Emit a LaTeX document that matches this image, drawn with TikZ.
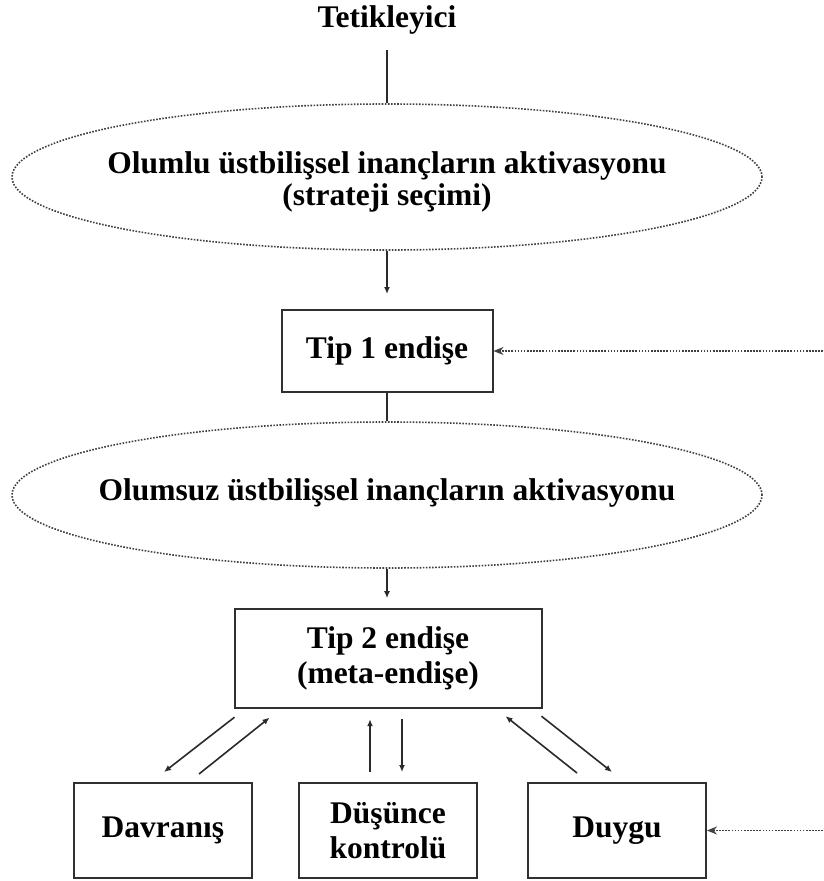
\documentclass[tikz,border=0pt]{standalone}
\usepackage{fontspec}
\setmainfont{Liberation Serif}
\usetikzlibrary{shapes.geometric,arrows.meta,calc}
\definecolor{frame}{HTML}{303030}
\definecolor{edge}{HTML}{2A2A2A}
\definecolor{dots}{HTML}{404040}
\begin{document}
\begin{tikzpicture}[x=1pt,y=-1pt,
  every node/.style={font=\fontsize{31.5}{34}\selectfont\bfseries, text=black},
  label/.style={align=center, inner sep=0pt},
  belief/.style={ellipse, draw=dots, line width=1.6pt, dash pattern=on 1.6pt off 1.5pt,
    minimum width=750pt, minimum height=146pt, inner sep=0pt},
  box/.style={rectangle, draw=frame, line width=2pt, align=center, inner sep=0pt},
  link/.style={draw=edge, line width=1.6pt},
  flow/.style={link, -{Latex[length=7pt,width=6pt]}},
  feed/.style={draw=dots, line width=1.5pt, dash pattern=on 1.6pt off 1.5pt,
    -{Stealth[length=10pt,width=8pt]}}]
\useasboundingbox (0,0) rectangle (823,881);

% trigger and the two belief activations
\node[anchor=base] (trig) at (387,27) {Tetikleyici};
\node[belief] (pos) at (387,177) {};
\node[label, font=\fontsize{31.5}{32}\selectfont\bfseries] (posText) at (387,182) {Olumlu üstbilişsel inançların aktivasyonu\\(strateji seçimi)};
\node[belief] (neg) at (387,495) {};
\node[label] (negText) at (387,492.5) {Olumsuz üstbilişsel inançların aktivasyonu};

% worry boxes
\node[box, minimum width=211pt, minimum height=82pt] (w1) at (387,351) {Tip 1 endişe};
\node[box, minimum width=307pt, minimum height=99pt, font=\fontsize{31.5}{35}\selectfont\bfseries] (w2) at (388,658.7) {Tip 2 endişe\\(meta-endişe)};

% responses
\node[box, minimum width=178pt, minimum height=95pt] (act) at (163,830.5) {Davranış};
\node[box, minimum width=178pt, minimum height=95pt, font=\fontsize{31.5}{35}\selectfont\bfseries] (ctl) at (388,830.5) {Düşünce\\kontrolü};
\node[box, minimum width=178pt, minimum height=95pt] (emo) at (617,830.5) {Duygu};

% free ends of the feedback arrows
\coordinate (src1) at (823,351);
\coordinate (src2) at (823,830.5);

% main chain
\draw[link, shorten <=13pt] (trig.south) -- (pos.north);
\draw[flow, shorten >=15pt] (pos.south) -- (w1.north);
\draw[link] (w1.south) -- (neg.north);
\draw[flow, shorten >=10pt] (neg.south) -- (neg.south |- w2.north);

% two-way links between meta-worry and the responses
\draw[flow] ($(w2.south west)+(1,8)$) -- ($(act.north)+(1,-10)$);
\draw[flow] ($(act.north)+(36,-8)$) -- ($(w2.south west)+(36,8.5)$);
\draw[flow] ($(ctl.north)+(-18,-10)$) -- ($(w2.south)+(-18,10)$);
\draw[flow] ($(w2.south)+(14,10)$) -- ($(ctl.north)+(14,-10)$);
\draw[flow] ($(emo.north)+(-40,-9)$) -- ($(w2.south east)+(-37,7)$);
\draw[flow] ($(w2.south east)+(-1,7)$) -- ($(emo.north)+(-5,-10)$);

% feedback into the worry chain
\draw[feed] (src1) -- (w1.east);
\draw[feed] (src2) -- (emo.east);
\end{tikzpicture}
\end{document}
